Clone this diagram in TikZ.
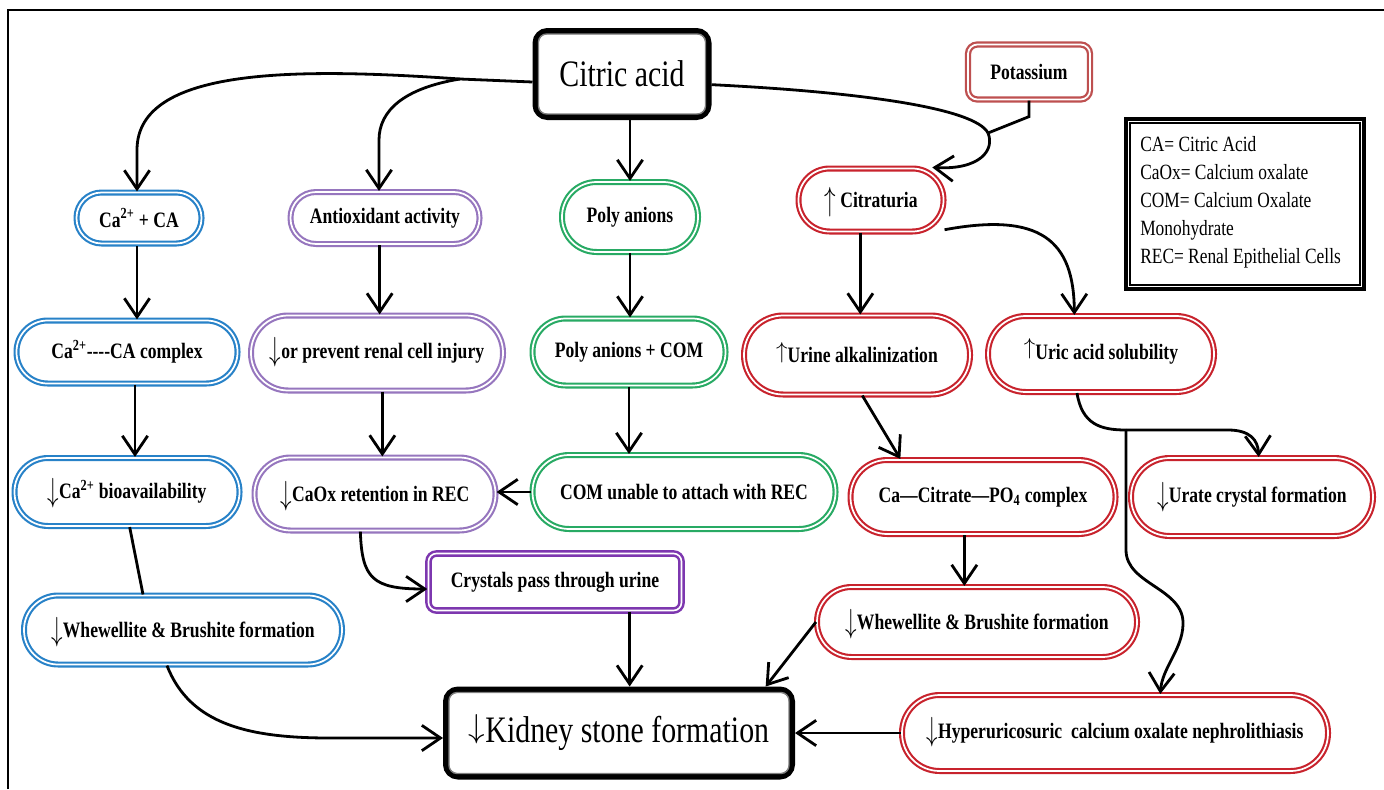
\documentclass[tikz,border=0pt]{standalone}
\usepackage{fontspec}
\setmainfont{Liberation Serif}[FakeStretch=0.8]
\usetikzlibrary{arrows.meta}
\definecolor{cblue}{RGB}{40,130,200}
\definecolor{cpurp}{RGB}{150,118,190}
\definecolor{cgreen}{RGB}{40,170,100}
\definecolor{cred}{RGB}{200,35,45}
\definecolor{cpot}{RGB}{190,80,80}
\definecolor{cdpurp}{RGB}{125,55,175}
\newcommand\myNodeFont{\fontsize{16.5}{19}\selectfont\bfseries}
\newcommand\bigdn{\smash{\raisebox{-0.12em}{\scalebox{1}[1.45]{$\downarrow$}}}}
\newcommand\bigup{\smash{\raisebox{-0.12em}{\scalebox{1}[1.45]{$\uparrow$}}}}
\newcommand\smup{\smash{\raisebox{0.2em}{\ensuremath{\uparrow}}}}
\newcommand\smdn{\smash{\raisebox{0.12em}{\ensuremath{\downarrow}}}}
\begin{document}
\begin{tikzpicture}[x=0.75pt,y=-0.75pt,
  every node/.style={inner sep=0pt, text=black},
  bx/.style 2 args={minimum width={#1*0.75pt}, minimum height={#2*0.75pt}, rounded corners={#2*0.375pt-0.3pt}},
  pill/.style={draw=#1, line width=1.6pt, double=white, double distance=1.3pt, font=\myNodeFont},
  arr/.style={line width=2.1pt, -{Straight Barb[length=14pt,width=19pt]}},
  ln/.style={line width=2.1pt},
  blackbox/.style={draw=black, line width=4.5pt, rounded corners=9pt, fill=white},
]
\useasboundingbox (0,0) rectangle (1384,789);
\fill[white] (0,0) rectangle (1384,789);
\draw[line width=1.6pt] (8,789) -- (8,10) -- (1384,10);

% main boxes
\node[blackbox, minimum width=173*0.75pt, minimum height=86*0.75pt, font=\fontsize{28}{30}\selectfont] (ca) at (622,74) {Citric acid};
\draw[gray, line width=1pt, rounded corners=6pt] ([shift={(6,6)}]ca.north west) rectangle ([shift={(-6,-6)}]ca.south east);
\node[blackbox, minimum width=346*0.75pt, minimum height=87*0.75pt, font=\fontsize{28}{30}\selectfont] (k) at (619,733) {\smdn Kidney stone formation};
\draw[gray, line width=1pt, rounded corners=6pt] ([shift={(6,6)}]k.north west) rectangle ([shift={(-6,-6)}]k.south east);

\node[draw=cpot, line width=1.7pt, double=white, double distance=1.3pt, rounded corners=7pt, minimum width=122*0.75pt, minimum height=55*0.75pt, font=\myNodeFont] (pot) at (1029,72) {Potassium};

% legend
\node[draw=black, line width=3pt, minimum width=238*0.75pt, minimum height=170*0.75pt] (leg) at (1245,204) {};
\draw[line width=0.9pt] ([shift={(6,6)}]leg.north west) rectangle ([shift={(-6,-6)}]leg.south east);
\node[anchor=north west, align=left, font=\fontsize{16.3}{21}\selectfont] (legt) at (1140,136) {CA= Citric Acid\\CaOx= Calcium oxalate\\COM= Calcium Oxalate\\Monohydrate\\REC= Renal Epithelial Cells};

% blue column
\node[pill=cblue, bx={125}{51}] (n1) at (139,218) {Ca\textsuperscript{2+} + CA};
\node[pill=cblue, bx={221}{63}] (n2) at (127,352) {Ca\textsuperscript{2+}-{}-{}-{}-CA complex};
\node[pill=cblue, bx={225}{68}] (n3) at (127,492) {\bigdn Ca\textsuperscript{2+} bioavailability};
\node[pill=cblue, bx={318}{69}] (n4) at (183,630) {\bigdn Whewellite \& Brushite formation};

% purple column
\node[pill=cpurp, bx={189}{52}] (a1) at (385,218) {Antioxidant activity};
\node[pill=cpurp, bx={252}{75}] (a2) at (377,353) {\bigdn or prevent renal cell injury};
\node[pill=cpurp, bx={241}{73}] (a3) at (375,494) {\bigdn CaOx retention in REC};
\node[draw=cdpurp, line width=1.9pt, double=white, double distance=1.2pt, rounded corners=6pt, minimum width=253*0.75pt, minimum height=57*0.75pt, font=\myNodeFont] (cr) at (555,582) {Crystals pass through urine};

% green column
\node[pill=cgreen, bx={136}{70}] (p1) at (630,217) {Poly anions};
\node[pill=cgreen, bx={193}{67}] (p2) at (629,352) {Poly anions + COM};
\node[pill=cgreen, bx={303}{74}] (p3) at (684,492) {COM unable to attach with REC};

% red
\node[pill=cred, bx={145}{63}] (cit) at (871,200) {\bigup\ Citraturia};
\node[pill=cred, bx={226}{79}] (r2) at (857,355) {\smup Urine alkalinization};
\node[pill=cred, bx={226}{76}] (u2) at (1101,354) {\smup Uric acid solubility};
\node[pill=cred, bx={265}{74}] (r3) at (983,497) {Ca—Citrate—PO\textsubscript{4} complex};
\node[pill=cred, bx={242}{78}] (u3) at (1252,497) {\bigdn Urate crystal formation};
\node[pill=cred, bx={320}{70}] (r4) at (977,622) {\bigdn Whewellite \& Brushite formation};
\node[pill=cred, bx={426}{76}] (h) at (1115,733) {\bigdn Hyperuricosuric\ \ calcium oxalate nephrolithiasis};

% branch points and helper coordinates
\coordinate (b1) at (460,79);
\coordinate (b2) at (988,133);
\coordinate (b3) at (1126,430);
\coordinate (kt) at ([xshift=8pt]k.north);
\coordinate (cs) at ([xshift=-8pt]cit.south);
\coordinate (r3s) at ([xshift=-14pt]r3.south);
\coordinate (a1s) at ([xshift=-4pt]a1.south);
\coordinate (a2s) at ([xshift=4pt]a2.south);

% connectors from citric acid
\draw[ln] ([yshift=-6pt]ca.west) -- (b1);
\draw[arr] (b1) .. controls (300,68) and (137,66) .. (137,150) -- (n1.north -| 137,0);
\draw[arr] (b1) .. controls (405,88) and (379,110) .. (379,140) -- ([xshift=-4.5pt]a1.north);
\draw[arr] (ca.south -| p1.north) -- (p1.north);
\draw[ln] ([yshift=-8pt]ca.east) .. controls (860,92) and (975,108) .. (b2);
\draw[ln] (pot.south) -- ++(0,16) -- (b2);
\draw[arr] (b2) .. controls (995,150) and (980,170) .. (cit.28);

% blue chain
\draw[arr] (137,246) -- (n2.north -| 137,0);
\draw[arr] (n2.south -| 135,0) -- (n3.north -| 135,0);
\draw[ln] ([xshift=2pt]n3.south) -- ([xshift=-30pt]n4.north);
\draw[arr] ([xshift=-12pt]n4.south) .. controls (190,725) and (250,738) .. (330,738) -- (k.west |- 0,738);

% purple chain
\draw[arr] (a1s) -- (a1s |- a2.north);
\draw[arr] (a2s) -- (a2s |- a3.north);
\draw[arr] ([xshift=-11pt]a3.south) .. controls (362,578) and (372,589) .. (cr.west |- 0,589);
\draw[arr] (kt |- cr.south) -- (kt);

% green chain
\draw[arr] (p1.south) -- (p1.south |- p2.north);
\draw[arr] (p2.south) -- (p2.south |- p3.north);
\draw[arr] (p3.west) -- (p3.west -| a3.east);

% red chain
\draw[arr] (cs) -- (cs |- r2.north);
\draw[arr] (cit.-22) .. controls (1040,212) and (1074,240) .. ([xshift=-20pt]u2.north);
\draw[arr] ([xshift=4pt]r2.south) -- ([xshift=-62pt]r3.north);
\draw[ln] ([xshift=-18pt]u2.south) .. controls (1082,424) and (1100,430) .. (b3);
\draw[arr] (b3) -- (1228,430) .. controls (1250,430) and (1258,440) .. ([xshift=5pt]u3.north);
\draw[arr] (b3) -- (1126,550) .. controls (1126,585) and (1185,588) .. (1183,625) .. controls (1182,650) and (1162,668) .. ([xshift=34pt]h.north);
\draw[arr] (r3s) -- (r3s |- r4.north);
\draw[arr] (r4.west) -- ([xshift=110pt]k.north);
\draw[arr] (h.west) -- (k.east);
\end{tikzpicture}
\end{document}
